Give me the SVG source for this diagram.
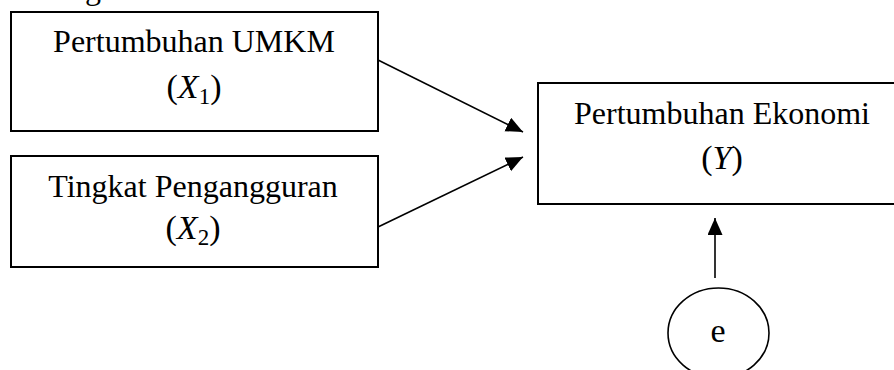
<svg xmlns="http://www.w3.org/2000/svg" width="894" height="370" viewBox="0 0 894 370">
<style>
.box{fill:#fff;stroke:#000;stroke-width:2}
.t{font-family:"Liberation Serif","Times New Roman",serif;font-size:32px;fill:#000;text-anchor:middle}
.m{font-family:"Liberation Serif","Times New Roman",serif;font-size:34px;fill:#000}
.i{font-style:italic}
.s{font-size:23px}
.c{stroke:#000;stroke-width:1.6;fill:none}
</style>
<defs>
<marker id="ah" markerUnits="userSpaceOnUse" markerWidth="18" markerHeight="16" refX="17" refY="7.5" orient="auto">
<path d="M0,0 L17,7.5 L0,15 z" fill="#000"/>
</marker>
</defs>
<rect width="894" height="370" fill="#fff"/>
<text class="t" x="93" y="-1">g</text>
<g id="x1">
<rect class="box" x="11" y="12" width="367" height="119"/>
<text class="t" x="194" y="52">Pertumbuhan UMKM</text>
<text class="m" x="194" y="98" text-anchor="middle">(<tspan class="i">X</tspan><tspan class="s" dy="6">1</tspan><tspan dy="-6">)</tspan></text>
</g>
<g id="x2">
<rect class="box" x="11" y="156" width="367" height="111"/>
<text class="t" x="193" y="197">Tingkat Pengangguran</text>
<text class="m" x="193" y="239" text-anchor="middle">(<tspan class="i">X</tspan><tspan class="s" dy="6">2</tspan><tspan dy="-6">)</tspan></text>
</g>
<g id="y">
<rect class="box" x="538" y="83" width="370" height="121"/>
<text class="t" x="722" y="124">Pertumbuhan Ekonomi</text>
<text class="m" x="722" y="169" text-anchor="middle">(<tspan class="i">Y</tspan>)</text>
</g>
<g id="e">
<ellipse class="c" cx="718.5" cy="333" rx="50.5" ry="45"/>
<text class="t" x="718" y="342" style="font-size:34px">e</text>
</g>
<g id="connectors">
<line class="c" x1="378" y1="60" x2="523" y2="132" marker-end="url(#ah)"/>
<line class="c" x1="378" y1="227" x2="523" y2="157" marker-end="url(#ah)"/>
<line class="c" x1="715" y1="278" x2="715" y2="218" marker-end="url(#ah)"/>
</g>
</svg>
